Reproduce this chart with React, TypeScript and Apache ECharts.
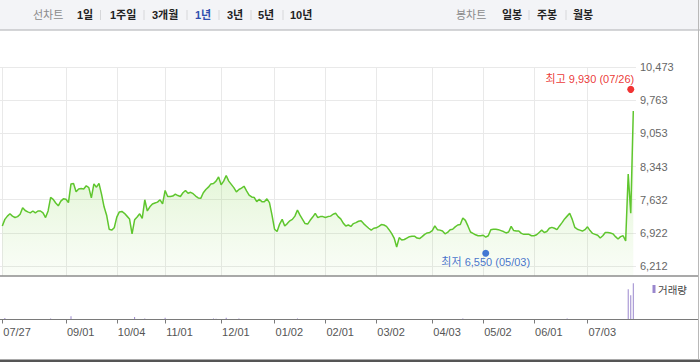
import React, { useEffect, useRef } from 'react';
import * as echarts from 'echarts';

const dates = [
  '2022-07-27','2022-07-28','2022-07-29',
  '2022-08-01','2022-08-02','2022-08-03','2022-08-04','2022-08-05','2022-08-08','2022-08-09','2022-08-10','2022-08-11','2022-08-12',
  '2022-08-16','2022-08-17','2022-08-18','2022-08-19','2022-08-22','2022-08-23','2022-08-24','2022-08-25','2022-08-26','2022-08-29','2022-08-30','2022-08-31',
  '2022-09-01','2022-09-02','2022-09-05','2022-09-06','2022-09-07','2022-09-08','2022-09-13','2022-09-14','2022-09-15','2022-09-16',
  '2022-09-19','2022-09-20','2022-09-21','2022-09-22','2022-09-23','2022-09-26','2022-09-27','2022-09-28','2022-09-29','2022-09-30',
  '2022-10-04','2022-10-05','2022-10-06','2022-10-07','2022-10-11','2022-10-12','2022-10-13','2022-10-14','2022-10-17','2022-10-18',
  '2022-10-19','2022-10-20','2022-10-21','2022-10-24','2022-10-25','2022-10-26','2022-10-27','2022-10-28','2022-10-31',
  '2022-11-01','2022-11-02','2022-11-03','2022-11-04','2022-11-07','2022-11-08','2022-11-09','2022-11-10','2022-11-11','2022-11-14',
  '2022-11-15','2022-11-16','2022-11-17','2022-11-18','2022-11-21','2022-11-22','2022-11-23','2022-11-24','2022-11-25','2022-11-28',
  '2022-11-29','2022-11-30',
  '2022-12-01','2022-12-02','2022-12-05','2022-12-06','2022-12-07','2022-12-08','2022-12-09','2022-12-12','2022-12-13','2022-12-14',
  '2022-12-15','2022-12-16','2022-12-19','2022-12-20','2022-12-21','2022-12-22','2022-12-23','2022-12-26','2022-12-27','2022-12-28','2022-12-29',
  '2023-01-02','2023-01-03','2023-01-04','2023-01-05','2023-01-06','2023-01-09','2023-01-10','2023-01-11','2023-01-12','2023-01-13',
  '2023-01-16','2023-01-17','2023-01-18','2023-01-19','2023-01-20','2023-01-25','2023-01-26','2023-01-27','2023-01-30','2023-01-31',
  '2023-02-01','2023-02-02','2023-02-03','2023-02-06','2023-02-07','2023-02-08','2023-02-09','2023-02-10','2023-02-13','2023-02-14',
  '2023-02-15','2023-02-16','2023-02-17','2023-02-20','2023-02-21','2023-02-22','2023-02-23','2023-02-24','2023-02-27','2023-02-28',
  '2023-03-02','2023-03-03','2023-03-06','2023-03-07','2023-03-08','2023-03-09','2023-03-10','2023-03-13','2023-03-14','2023-03-15',
  '2023-03-16','2023-03-17','2023-03-20','2023-03-21','2023-03-22','2023-03-23','2023-03-24','2023-03-27','2023-03-28','2023-03-29',
  '2023-03-30','2023-03-31',
  '2023-04-03','2023-04-04','2023-04-05','2023-04-06','2023-04-07','2023-04-10','2023-04-11','2023-04-12','2023-04-13','2023-04-14',
  '2023-04-17','2023-04-18','2023-04-19','2023-04-20','2023-04-21','2023-04-24','2023-04-25','2023-04-26','2023-04-27','2023-04-28',
  '2023-05-02','2023-05-03','2023-05-04','2023-05-08','2023-05-09','2023-05-10','2023-05-11','2023-05-12','2023-05-15','2023-05-16',
  '2023-05-17','2023-05-18','2023-05-19','2023-05-22','2023-05-23','2023-05-24','2023-05-25','2023-05-26','2023-05-30','2023-05-31',
  '2023-06-01','2023-06-02','2023-06-05','2023-06-07','2023-06-08','2023-06-09','2023-06-12','2023-06-13','2023-06-14','2023-06-15',
  '2023-06-16','2023-06-19','2023-06-20','2023-06-21','2023-06-22','2023-06-23','2023-06-26','2023-06-27','2023-06-28','2023-06-29','2023-06-30',
  '2023-07-03','2023-07-04','2023-07-05','2023-07-06','2023-07-07','2023-07-10','2023-07-11','2023-07-12','2023-07-13','2023-07-14',
  '2023-07-17','2023-07-18','2023-07-19','2023-07-20','2023-07-21','2023-07-24','2023-07-25','2023-07-26','2023-07-27',
];

const closePrices = [
  7070, 7210, 7280, 7330, 7280, 7250, 7270, 7320, 7460, 7400,
  7370, 7350, 7390, 7350, 7390, 7390, 7350, 7250, 7390, 7680,
  7640, 7560, 7500, 7600, 7650, 7640, 7570, 7970, 7980, 7800,
  7860, 7870, 7860, 7930, 7890, 7670, 7970, 7900, 7980, 7750,
  7480, 7300, 7000, 6980, 7030, 7260, 7370, 7380, 7340, 7280,
  7220, 6900, 7200, 7260, 7330, 7230, 7630, 7390, 7480, 7540,
  7560, 7580, 7630, 7540, 7830, 7700, 7700, 7710, 7750, 7720,
  7700, 7780, 7830, 7770, 7790, 7760, 7710, 7670, 7660, 7780,
  7850, 7900, 7970, 7980, 8030, 8120, 7950, 8030, 8150, 8030,
  7960, 7890, 7800, 7850, 7880, 7920, 7820, 7730, 7690, 7680,
  7590, 7640, 7590, 7590, 7650, 7570, 7300, 7000, 6950, 7110,
  7210, 7070, 7120, 7180, 7210, 7280, 7410, 7300, 7210, 7120,
  7110, 7190, 7260, 7340, 7250, 7270, 7270, 7250, 7270, 7280,
  7320, 7340, 7270, 7220, 7130, 7070, 7090, 7060, 7120, 7140,
  7170, 7180, 7120, 7070, 7020, 6980, 7020, 7030, 7060, 7100,
  7090, 7060, 6990, 6910, 6810, 6620, 6820, 6770, 6780, 6810,
  6840, 6850, 6850, 6810, 6800, 6840, 6890, 6920, 6930, 6970,
  7070, 6990, 6980, 6960, 6900, 6930, 6990, 7000, 7050, 7090,
  7100, 7240, 7190, 7070, 6940, 6910, 6880, 6860, 6860, 6870,
  6830, 6860, 6990, 7000, 7000, 6990, 6970, 6950, 6920, 6940,
  7060, 6970, 6960, 6960, 6910, 6890, 6890, 6890, 6860, 6860,
  6880, 6930, 6980, 6930, 6950, 7020, 7040, 7020, 6990, 7070,
  7140, 7220, 7280, 7340, 7210, 7040, 7000, 6980, 6960, 6990,
  7050, 6970, 6910, 6890, 6870, 6810, 6860, 6930, 6930, 6920,
  6900, 6840, 6790, 6840, 6860, 6750, 8180, 7340, 9530,
];

const volumeDays = [
  '2022-07-28','2022-08-24','2022-09-05','2022-10-14','2022-10-20','2022-11-01','2022-11-28','2022-11-29',
  '2022-12-05','2022-12-12','2023-01-13','2023-04-19','2023-06-21','2023-07-25','2023-07-26','2023-07-27',
];
const volumeValues = [4, 3, 9, 7, 3, 5, 3, 2, 5, 3, 3, 3, 3, 83, 67, 100];

const tickDates = [
  '2022-07-27','2022-09-01','2022-10-04','2022-11-01','2022-12-01','2023-01-02',
  '2023-02-01','2023-03-02','2023-04-03','2023-05-02','2023-06-01','2023-07-03',
];
const yTickLabels = [6212, 6922, 7632, 8343, 9053, 9763, 10473];

const highDate = '2023-07-26';
const highValue = 9930;
const lowDate = '2023-05-03';
const lowValue = 6550;

const lineTabs = ['1일', '1주일', '3개월', '1년', '3년', '5년', '10년'];
const candleTabs = ['일봉', '주봉', '월봉'];
const volumeName = '거래량';

const FONT = "'Liberation Sans', 'Noto Sans CJK KR', sans-serif";

const fmtNum = (v: number) => v.toLocaleString('en-US');
const fmtDate = (d: string) => d.slice(5).replace('-', '/');

export default function App() {
  const ref = useRef<HTMLDivElement>(null);

  useEffect(() => {
    document.body.style.margin = '0';
    const chart = echarts.init(ref.current!, undefined, { renderer: 'svg' });
    const tickSet = new Set(tickDates);
    const isTick = (_i: number, v: string) => tickSet.has(v);
    const yMin = yTickLabels[0];
    const yMax = yTickLabels[yTickLabels.length - 1];
    const yInterval = (yMax - yMin) / (yTickLabels.length - 1);
    const pxPerUnit = (266 - 67) / (yMax - yMin);
    const seriesMin = yMin - (276 - 266) / pxPerUnit;

    const lineX = [33, 77, 110, 152, 195, 227, 258, 290];
    const sepX = [100.5, 144, 187, 219, 251, 283];
    const candleX = [456, 502, 537, 573];
    const candleSepX = [529, 566];
    const barColor = '#9a87cd';

    const graphics: any[] = [
      { type: 'rect', shape: { x: 0, y: 0, width: 700, height: 30 }, style: { fill: '#f3f4f7' }, z: 0 },
      { type: 'line', shape: { x1: 0, y1: 30, x2: 700, y2: 30 }, style: { stroke: '#c6c7ca', lineWidth: 1.5 } },
      { type: 'text', x: lineX[0], y: 15, style: { text: '선차트', fill: '#8a8a8a', fontSize: 11, fontFamily: FONT, verticalAlign: 'middle' } },
      { type: 'text', x: candleX[0], y: 15, style: { text: '봉차트', fill: '#8a8a8a', fontSize: 11, fontFamily: FONT, verticalAlign: 'middle' } },
      { type: 'line', shape: { x1: 0, y1: 276, x2: 698, y2: 276 }, style: { stroke: '#8c8c8c', lineWidth: 1.5 }, z: 100 },
      { type: 'line', shape: { x1: 0, y1: 319.5, x2: 698, y2: 319.5 }, style: { stroke: '#7a7a7a', lineWidth: 1 }, z: 100 },
      { type: 'rect', shape: { x: 0, y: 359.5, width: 700, height: 2.5 }, style: { fill: '#555555' }, z: 100 },
      { type: 'line', shape: { x1: 698.5, y1: 0, x2: 698.5, y2: 360 }, style: { stroke: '#b8b8b8', lineWidth: 1 }, z: 100 },
      { type: 'rect', shape: { x: 652.5, y: 285, width: 3, height: 8 }, style: { fill: barColor }, z: 100 },
      { type: 'text', x: 658, y: 289.5, style: { text: volumeName, fill: '#444444', fontSize: 10.5, fontFamily: FONT, verticalAlign: 'middle' }, z: 100 },
    ];
    lineTabs.forEach((t, i) => {
      graphics.push({
        type: 'text', x: lineX[i + 1], y: 15,
        style: { text: t, fill: t === '1년' ? '#2f4fae' : '#222222', fontSize: 11, fontWeight: 'bold', fontFamily: FONT, verticalAlign: 'middle' },
      });
    });
    candleTabs.forEach((t, i) => {
      graphics.push({
        type: 'text', x: candleX[i + 1], y: 15,
        style: { text: t, fill: '#222222', fontSize: 11, fontWeight: 'bold', fontFamily: FONT, verticalAlign: 'middle' },
      });
    });
    [...sepX, ...candleSepX].forEach((x) => {
      graphics.push({ type: 'line', shape: { x1: x, y1: 10, x2: x, y2: 20 }, style: { stroke: '#d6d7da', lineWidth: 1 } });
    });

    const option: any = {
      animation: false,
      graphic: graphics,
      grid: [
        { left: 0, right: 64, top: 67, bottom: 96 },
        { left: 2.3, right: 66.7, top: 67, bottom: 86 },
        { left: 2.3, right: 66.7, top: 277, bottom: 42.5 },
      ],
      xAxis: [
        { type: 'value', gridIndex: 0, min: 0, max: 1, show: false },
        {
          type: 'category', gridIndex: 1, data: dates, boundaryGap: false,
          axisLine: { show: false }, axisTick: { show: false }, axisLabel: { show: false },
          splitLine: { show: true, interval: isTick, lineStyle: { color: '#e9e9e9', width: 1 } },
        },
        {
          type: 'category', gridIndex: 2, data: dates, boundaryGap: false,
          axisLine: { show: false },
          axisTick: { show: true, interval: isTick, length: 4, lineStyle: { color: '#7a7a7a' } },
          axisLabel: {
            interval: isTick, formatter: fmtDate, align: 'left', padding: [0, 0, 0, 1],
            fontSize: 11, color: '#555', fontFamily: FONT, margin: 7,
          },
          splitLine: { show: false },
        },
      ],
      yAxis: [
        {
          type: 'value', gridIndex: 0, position: 'right', min: yMin, max: yMax, interval: yInterval,
          axisLine: { show: false }, axisTick: { show: false },
          axisLabel: {
            margin: 4, fontSize: 11, color: '#666', fontFamily: FONT,
            formatter: (v: number) => {
              const near = yTickLabels.reduce((a, b) => (Math.abs(b - v) < Math.abs(a - v) ? b : a));
              return fmtNum(near);
            },
          },
          splitLine: { show: true, lineStyle: { color: '#e9e9e9', width: 1 } },
        },
        { type: 'value', gridIndex: 1, min: seriesMin, max: yMax, show: false },
        { type: 'value', gridIndex: 2, min: 0, max: 117, show: false },
      ],
      series: [
        {
          name: '종가', type: 'line', xAxisIndex: 1, yAxisIndex: 1, data: closePrices,
          symbol: 'none', lineStyle: { color: '#5fc62e', width: 1.5 },
          areaStyle: {
            origin: 'start',
            color: new echarts.graphic.LinearGradient(0, 170, 0, 276, [
              { offset: 0, color: 'rgba(120,210,60,0.30)' },
              { offset: 1, color: 'rgba(150,220,100,0.07)' },
            ], true),
          },
          z: 2,
        },
        {
          name: '최고', type: 'scatter', xAxisIndex: 1, yAxisIndex: 1,
          data: [[highDate, highValue]], symbolSize: 7, symbolOffset: [0, -3],
          itemStyle: { color: '#ee0000' },
          label: {
            show: true, position: 'top', distance: 1, align: 'right', offset: [3.5, 0],
            formatter: () => `최고 ${fmtNum(highValue)} (${fmtDate(highDate)})`,
            color: '#e60000', fontSize: 11, fontFamily: FONT,
          },
          z: 5,
        },
        {
          name: '최저', type: 'scatter', xAxisIndex: 1, yAxisIndex: 1,
          data: [[lowDate, lowValue]], symbolSize: 7, symbolOffset: [0, 3],
          itemStyle: { color: '#1656cc' },
          label: {
            show: true, position: 'bottom', distance: 0,
            formatter: () => `최저 ${fmtNum(lowValue)} (${fmtDate(lowDate)})`,
            color: '#1550bf', fontSize: 11, fontFamily: FONT,
          },
          z: 5,
        },
        {
          name: volumeName, type: 'bar', xAxisIndex: 2, yAxisIndex: 2,
          data: volumeDays.map((d, k) => [d, volumeValues[k]]),
          barWidth: 1, clip: false,
          itemStyle: { color: barColor },
        },
      ],
    };
    chart.setOption(option);
    return () => chart.dispose();
  }, []);

  return <div ref={ref} style={{ width: 700, height: 362 }} />;
}
